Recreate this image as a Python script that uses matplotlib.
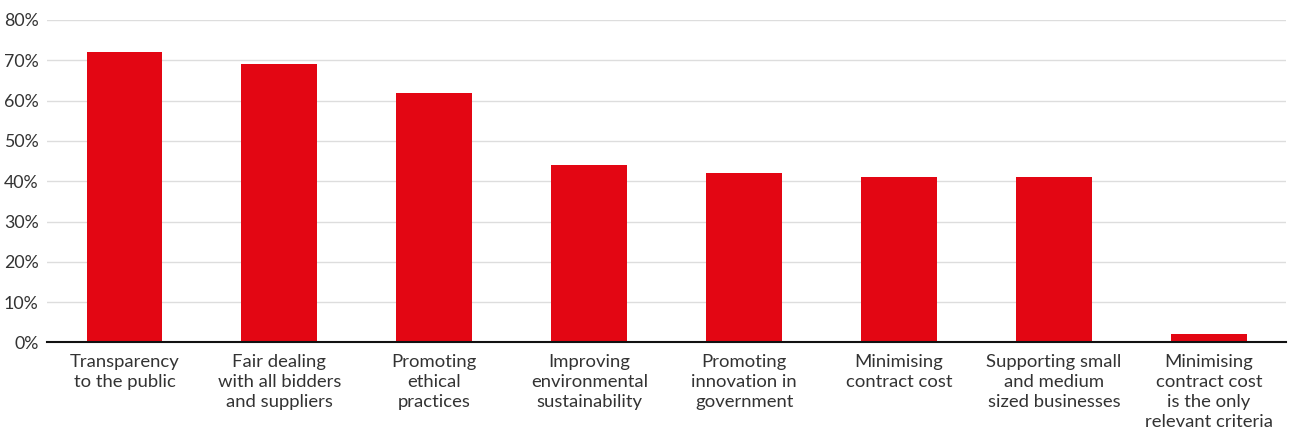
import matplotlib.pyplot as plt
from matplotlib.ticker import PercentFormatter

categories = [
    "Transparency\nto the public",
    "Fair dealing\nwith all bidders\nand suppliers",
    "Promoting\nethical\npractices",
    "Improving\nenvironmental\nsustainability",
    "Promoting\ninnovation in\ngovernment",
    "Minimising\ncontract cost",
    "Supporting small\nand medium\nsized businesses",
    "Minimising\ncontract cost\nis the only\nrelevant criteria",
]
shares = [72, 69, 62, 44, 42, 41, 41, 2]

plt.rcParams["font.family"] = ["Lato", "DejaVu Sans"]

fig = plt.figure(figsize=(12.89, 4.34), dpi=100)
ax = fig.add_axes([0.0365, 0.211, 0.9615, 0.743])

x = range(len(categories))
ax.bar(x, shares, width=0.49, color="#e30613", zorder=3)

ax.set_xlim(-0.5, len(categories) - 0.5)
ax.set_ylim(0, 80)
ax.set_yticks(range(0, 81, 10))
ax.yaxis.set_major_formatter(PercentFormatter(decimals=0))
ax.set_xticks(list(x))
ax.set_xticklabels(categories, linespacing=1.33)

ax.grid(axis="y", color="#dddddd", linewidth=1, zorder=0)
for side in ("top", "right", "left"):
    ax.spines[side].set_visible(False)
ax.spines["bottom"].set_color("#111111")
ax.spines["bottom"].set_linewidth(1.5)
ax.spines["bottom"].set_zorder(4)

ax.tick_params(axis="both", length=0, colors="#333333")
ax.tick_params(axis="x", pad=8, labelsize=13.3)
ax.tick_params(axis="y", pad=6, labelsize=12.8)

fig.savefig("out.png", dpi=100)
